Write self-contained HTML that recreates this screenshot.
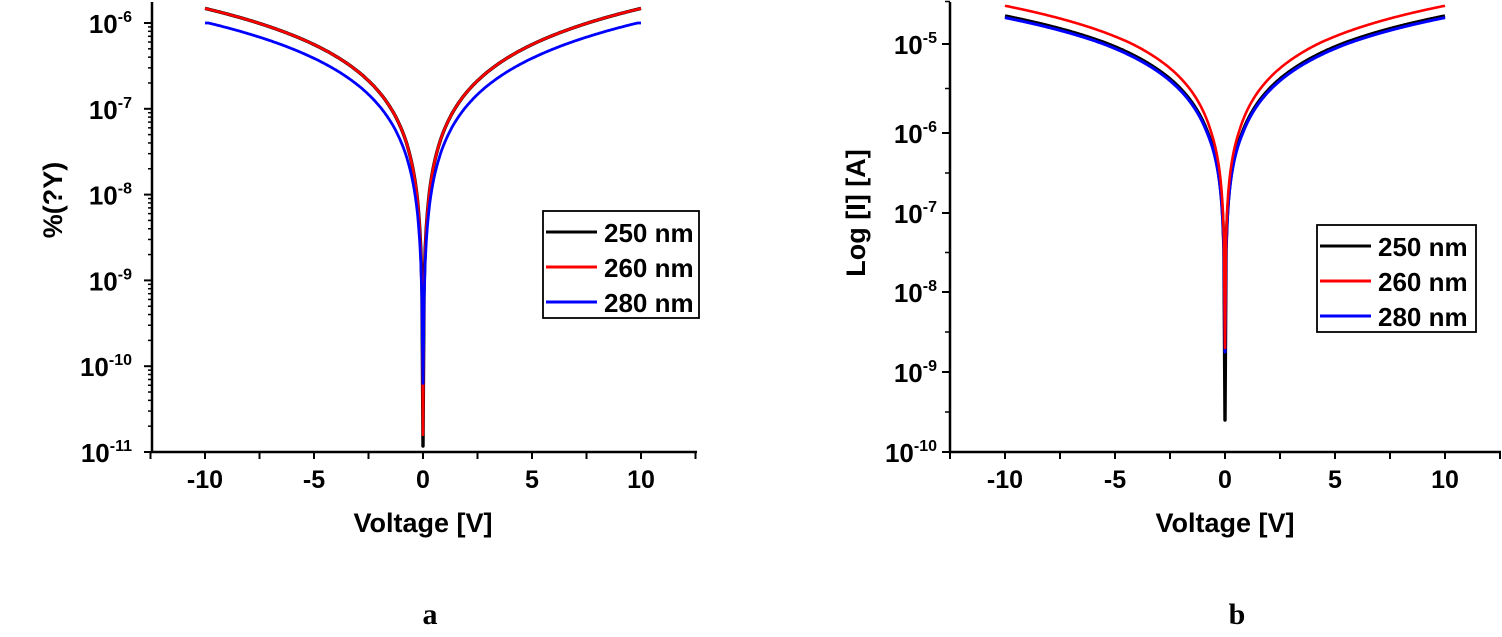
<!DOCTYPE html>
<html><head><meta charset="utf-8"><style>
html,body{margin:0;padding:0;background:#fff;}
svg{display:block;}
text{font-family:"Liberation Sans",Arial,sans-serif;font-weight:bold;fill:#000;}
</style></head><body>
<svg id="s" width="1502" height="637" xmlns="http://www.w3.org/2000/svg"></svg>
<script>
const s=document.getElementById('s');let h='';
function L(x1,y1,x2,y2,w){h+=`<line x1="${x1}" y1="${y1}" x2="${x2}" y2="${y2}" stroke="#000" stroke-width="${w||2}"/>`;}
function T(x,y,t,sz,anc,extra){h+=`<text x="${x}" y="${y}" font-size="${sz}" text-anchor="${anc||'middle'}" ${extra||''}>${t}</text>`;}
const yL=l=>23+(-6-l)*85.8;
const rY=[44,133,213,292,372,452];
function yR(l){let d=-5-l; if(d<=0)return 44+d*85; if(d>=5)return 452; let i=Math.floor(d),f=d-i;return rY[i]+(rY[i+1]-rY[i])*f;}
const xL=v=>423+v*21.8, xR=v=>1225+v*22;
// axes left
L(152,2,152,453,2.5);L(151,452,697,452,2.5);
for(let v=-12.5;v<=12.5;v+=2.5)L(xL(v),452,xL(v),459);
for(let e=-11;e<=-6;e++){L(144,yL(e),152,yL(e));T(132,yL(e)+10,`10<tspan font-size="16" dy="-11">${e}</tspan>`,26,'end');
 for(let k=2;k<=9;k++){let y=yL(e+Math.log10(k));if(y>3)L(148,y,152,y,1.5);}}
[-10,-5,0,5,10].forEach(v=>T(xL(v),488,v,25));
T(423,532,'Voltage [V]',27);
T(62,200,'%(?Y)',27,'middle','transform="rotate(-90 62 200)"');
// axes right
L(950,2,950,453,2.5);L(949,452,1501,452,2.5);
for(let v=-12.5;v<=12.5;v+=2.5)L(xR(v),452,xR(v),459);
for(let e=-10;e<=-5;e++){L(942,yR(e),950,yR(e));T(937,yR(e)+10,`10<tspan font-size="16" dy="-11">${e}</tspan>`,26,'end');}
for(let e=-10;e<=-5;e++){let y=yR(e+0.5);L(945,y,950,y,1.5);}
[-10,-5,0,5,10].forEach(v=>T(xR(v),488,v,25));
T(1225,532,'Voltage [V]',27);
T(865,213,'Log [I] [A]',27,'middle','transform="rotate(-90 865 213)"');
function curve(xf,yf,a,n,cap,spike,col,w){
 let pts=[];
 for(let v=-10;v<=10.0001;v+=0.05){let av=Math.abs(v);let l;
  if(av<0.001)l=spike;else{l=a+n*Math.log10(av);if(cap!==null&&l>cap)l=cap;}
  pts.push(xf(v).toFixed(1)+','+yf(l).toFixed(1));}
 h+=`<polyline points="${pts.join(' ')}" fill="none" stroke="${col}" stroke-width="${w||2.2}" stroke-linejoin="round"/>`;
}
curve(xL,yL,-7.23,1.4,null,-10.93,'#000',3.4);
curve(xL,yL,-7.23,1.4,null,-10.8,'#f00',2.6);
curve(xL,yL,-7.39,1.4,-6,-10.2,'#00f',2.8);
curve(xR,yR,-5.87,1.2,null,-9.6,'#000',3.4);
curve(xR,yR,-5.89,1.2,null,-8.75,'#00f',3);
curve(xR,yR,-5.75,1.2,null,-8.7,'#f00',2.6);
function leg(x,y,w,hh,rows){
 h+=`<rect x="${x}" y="${y}" width="${w}" height="${hh}" fill="#fff" stroke="#000" stroke-width="1.8"/>`;
 rows.forEach((r,i)=>{let yy=y+21+i*35;h+=`<line x1="${x+3}" y1="${yy}" x2="${x+54}" y2="${yy}" stroke="${r[0]}" stroke-width="3"/>`;T(x+61,yy+10,r[1],26,'start');});
}
const R=[['#000','250 nm'],['#f00','260 nm'],['#00f','280 nm']];
leg(543,211,156,107,R);
leg(1317,225,159,107,R);
h+=`<text x="430" y="624" font-size="30" text-anchor="middle" style="font-family:'Liberation Serif',serif">a</text>`;
h+=`<text x="1237" y="624" font-size="30" text-anchor="middle" style="font-family:'Liberation Serif',serif">b</text>`;
s.innerHTML=h;
</script>
</body></html>
